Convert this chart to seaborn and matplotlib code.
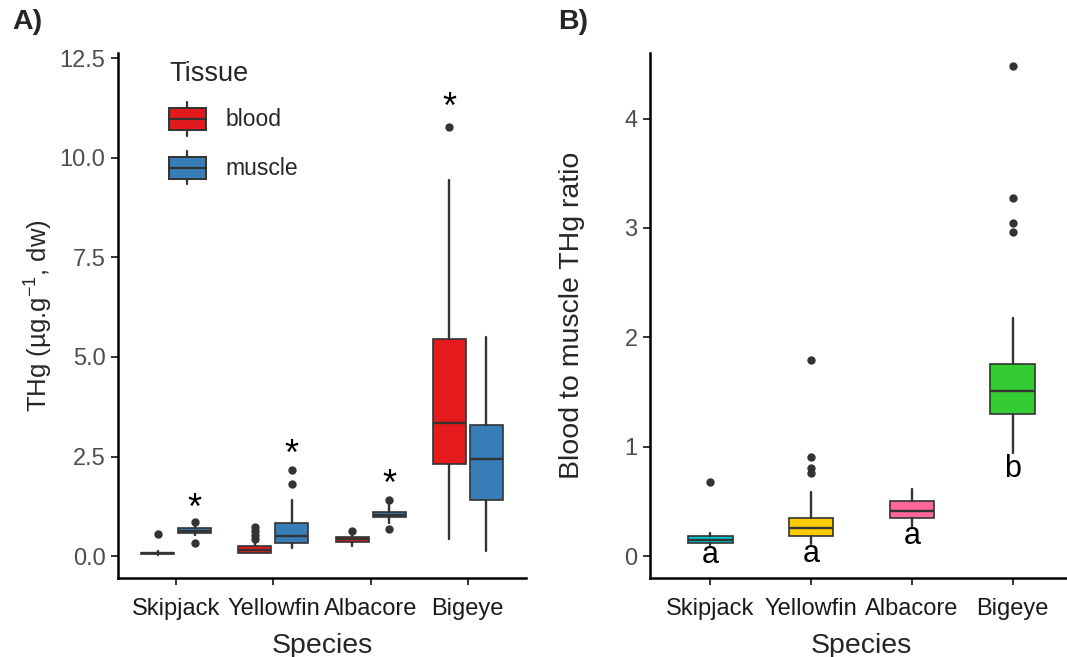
import matplotlib
matplotlib.use("Agg")
import matplotlib.pyplot as plt
import matplotlib.transforms as mtransforms
import seaborn as sns
from matplotlib.legend_handler import HandlerBase
from matplotlib.patches import Rectangle
from matplotlib.lines import Line2D

# values

species = ["Skipjack", "Yellowfin", "Albacore", "Bigeye"]
tissues = ["blood", "muscle"]
tissue_colors = ["#E41A1C", "#377EB8"]

# panel A, THg (ug/g dw) box stats per species
blood_q1 = [0.05, 0.08, 0.36, 2.31]
blood_med = [0.07, 0.16, 0.42, 3.35]
blood_q3 = [0.09, 0.26, 0.47, 5.45]
blood_lo = [0.03, 0.07, 0.25, 0.43]
blood_hi = [0.12, 0.40, 0.52, 9.45]
blood_out = [[0.56], [0.43, 0.53, 0.64, 0.74], [0.63], [10.76]]

muscle_q1 = [0.57, 0.34, 0.97, 1.42]
muscle_med = [0.62, 0.50, 1.04, 2.43]
muscle_q3 = [0.70, 0.83, 1.11, 3.28]
muscle_lo = [0.52, 0.21, 0.83, 0.13]
muscle_hi = [0.75, 1.42, 1.30, 5.50]
muscle_out = [[0.33, 0.85], [1.82, 2.16], [0.69, 1.40], []]

# significance stars (tissue index, y)
star_tissue = [1, 1, 1, 0]
star_y = [1.40, 2.74, 1.99, 11.46]

# panel B, blood to muscle ratio
ratio_colors = ["#00C5CD", "#FFCC00", "#FF6699", "#33CC33"]
ratio_q1 = [0.12, 0.18, 0.35, 1.30]
ratio_med = [0.15, 0.26, 0.41, 1.51]
ratio_q3 = [0.18, 0.35, 0.505, 1.76]
ratio_lo = [0.10, 0.11, 0.28, 0.94]
ratio_hi = [0.21, 0.59, 0.61, 2.18]
ratio_out = [[0.68], [0.76, 0.81, 0.91, 1.79], [], [2.96, 3.05, 3.27, 4.48]]
ratio_letters = ["a", "a", "a", "b"]
letter_y = [0.01, 0.02, 0.18, 0.80]


def make_stats(q1, med, q3, lo, hi, out):
    return [dict(q1=a, med=b, q3=c, whislo=d, whishi=e, fliers=f)
            for a, b, c, d, e, f in zip(q1, med, q3, lo, hi, out)]


sns.set_theme(style="ticks")
plt.rcParams['font.family'] = ['Liberation Sans', 'DejaVu Sans']
plt.rcParams['mathtext.fontset'] = 'custom'
plt.rcParams['mathtext.rm'] = 'Liberation Sans'
plt.rcParams['mathtext.it'] = 'Liberation Sans:italic'
plt.rcParams['mathtext.bf'] = 'Liberation Sans:bold'

dark = "#333333"
box_kw = dict(patch_artist=True, showcaps=False,
              boxprops=dict(edgecolor=dark, linewidth=1.2),
              medianprops=dict(color=dark, linewidth=1.7),
              whiskerprops=dict(color=dark, linewidth=1.7),
              flierprops=dict(marker="o", markerfacecolor=dark,
                              markeredgecolor=dark, markersize=5))

fig = plt.figure(figsize=(10.67, 6.57), dpi=100)
axA = fig.add_axes([118 / 1067, 1 - 578 / 657, 408 / 1067, 525 / 657])
axB = fig.add_axes([650 / 1067, 1 - 578 / 657, 423 / 1067, 525 / 657])

# panel A
x = list(range(len(species)))
groups = [
    make_stats(blood_q1, blood_med, blood_q3, blood_lo, blood_hi, blood_out),
    make_stats(muscle_q1, muscle_med, muscle_q3, muscle_lo, muscle_hi, muscle_out),
]
offsets = [-0.19, 0.19]
for stats, off, col in zip(groups, offsets, tissue_colors):
    res = axA.bxp(stats, positions=[i + off for i in x], widths=0.34, **box_kw)
    for b in res["boxes"]:
        b.set_facecolor(col)

# the star glyph sits high in its text box, so nudge it down a little
star_tr = mtransforms.offset_copy(axA.transData, fig=fig, x=0, y=-9, units="dots")
for i, (t, y) in enumerate(zip(star_tissue, star_y)):
    axA.text(i + offsets[t], y, "*", ha="center", va="center",
             fontsize=26, color="black", transform=star_tr)

axA.set_xlim(-0.6, 3.6)
axA.set_ylim(-0.55, 12.63)
axA.set_yticks([0, 2.5, 5, 7.5, 10, 12.5])
axA.set_yticklabels(["0.0", "2.5", "5.0", "7.5", "10.0", "12.5"])
axA.set_xticks(x)
axA.set_xticklabels(species)
axA.set_xlabel("Species", fontsize=20.5, labelpad=9)
axA.set_ylabel(r"THg (µg.g$^{\mathregular{-1}}$, dw)", fontsize=18.5, labelpad=3)


class BoxKey(HandlerBase):
    def create_artists(self, legend, orig, xd, yd, width, height, fontsize, trans):
        h = height * 0.66
        y0 = -yd + (height - h) / 2
        x0 = -xd
        rect = Rectangle((x0, y0), width, h, facecolor=orig.get_facecolor(),
                         edgecolor=dark, linewidth=1.4, transform=trans)
        mid = Line2D([x0, x0 + width], [y0 + h / 2] * 2, color=dark, lw=1.6, transform=trans)
        top = Line2D([x0 + width / 2] * 2, [y0 + h, -yd + height], color=dark, lw=1.6, transform=trans)
        bot = Line2D([x0 + width / 2] * 2, [-yd, y0], color=dark, lw=1.6, transform=trans)
        return [top, bot, rect, mid]


handles = [Rectangle((0, 0), 1, 1, facecolor=c) for c in tissue_colors]
leg = axA.legend(handles, tissues, title="Tissue", handler_map={Rectangle: BoxKey()},
                 loc="upper left", bbox_to_anchor=(0.125, 0.985), frameon=False,
                 fontsize=16.5, title_fontsize=19.5, borderpad=0, borderaxespad=0,
                 handlelength=1.6, handleheight=1.85, labelspacing=0.68,
                 handletextpad=0.85)
leg._legend_box.align = "left"

# panel B
resB = axB.bxp(make_stats(ratio_q1, ratio_med, ratio_q3, ratio_lo, ratio_hi, ratio_out),
               positions=x, widths=0.44, **box_kw)
for b, c in zip(resB["boxes"], ratio_colors):
    b.set_facecolor(c)
for i, (lab, y) in enumerate(zip(ratio_letters, letter_y)):
    axB.text(i, y, lab, ha="center", va="center", fontsize=22, color="black")

axB.set_xlim(-0.6, 3.6)
axB.set_ylim(-0.2, 4.6)
axB.set_yticks([0, 1, 2, 3, 4])
axB.set_xticks(x)
axB.set_xticklabels(species)
axB.set_xlabel("Species", fontsize=20.5, labelpad=9)
axB.set_ylabel("Blood to muscle THg ratio", fontsize=20.5, labelpad=28)

for ax in (axA, axB):
    sns.despine(ax=ax)
    ax.spines["left"].set_linewidth(1.8)
    ax.spines["bottom"].set_linewidth(1.8)
    ax.spines["left"].set_color("black")
    ax.spines["bottom"].set_color("black")
    ax.tick_params(axis="both", length=5, width=1.4, color=dark, labelsize=17, pad=4)
    ax.tick_params(axis="y", labelcolor="#4D4D4D")
    ax.tick_params(axis="x", labelcolor="#1A1A1A", pad=9.5)
    ax.grid(False)

fig.text(12 / 1067, 1 - 22 / 657, "A)", fontsize=20.5, fontweight="bold", va="center", ha="left")
fig.text(558 / 1067, 1 - 22 / 657, "B)", fontsize=20.5, fontweight="bold", va="center", ha="left")

fig.savefig("out.png", dpi=100)
